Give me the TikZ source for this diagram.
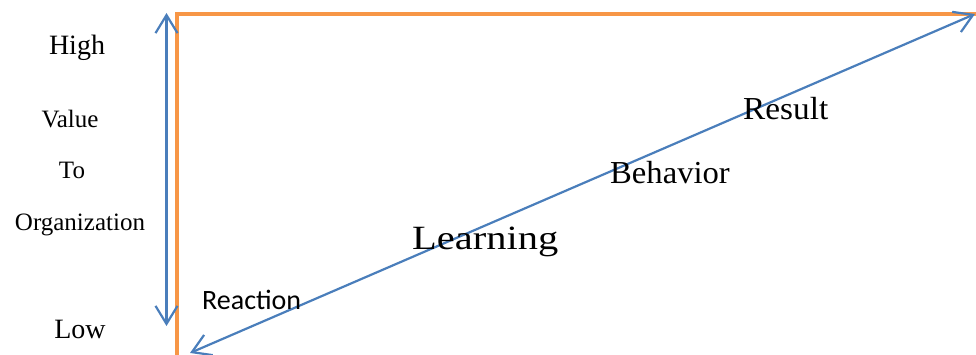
\documentclass[tikz,border=0pt]{standalone}
\usepackage{fontspec}
\usepackage{graphicx}
\setmainfont{Liberation Serif}
\newfontfamily\calibrisub{Carlito}
\usetikzlibrary{arrows.meta}
\definecolor{axisorange}{HTML}{F79646}
\definecolor{arrowblue}{HTML}{4A7EBB}
\begin{document}
\begin{tikzpicture}[x=1pt,y=-1pt,
  axisline/.style={draw=axisorange,line width=4.5pt},
  bluearrow/.style={draw=arrowblue,line width=2.2pt,
    {Straight Barb[length=18pt,width=22pt,line width=2.2pt]}-{Straight Barb[length=18pt,width=22pt,line width=2.2pt]}},
  scalelabel/.style={font=\fontsize{28}{30}\selectfont,anchor=base,inner sep=0pt},
  axislabel/.style={font=\fontsize{25}{27}\selectfont,anchor=base,inner sep=0pt},
  levelsans/.style={font=\calibrisub\fontsize{28}{30}\selectfont,anchor=base west,inner sep=0pt},
  levelserif/.style={font=\fontsize{32}{34}\selectfont,anchor=base west,inner sep=0pt}]
\useasboundingbox (0,0) rectangle (976,355);
% orange axes
\coordinate (origin) at (177,360);
\coordinate (corner) at (177,14);
\coordinate (xend) at (980,14);
\draw[axisline] (origin) -- (corner) -- (xend);
% value scale arrow
\coordinate (scaletop) at (166.5,13);
\coordinate (scalebot) at (166.5,326);
\draw[bluearrow] (scalebot) -- (scaletop);
% diagonal progression arrow
\coordinate (diagstart) at (190,353);
\coordinate (diagend) at (975,14);
\draw[bluearrow] (diagstart) -- (diagend);
% vertical axis labels
\node[scalelabel] (high) at (77,55) {High};
\node[axislabel] (value) at (70,128) {Value};
\node[axislabel] (to) at (72,179) {To};
\node[axislabel] (org) at (80,230) {Organization};
\node[scalelabel] (low) at (80,338) {Low};
% evaluation levels
\node[levelsans] (reaction) at (202,309) {Reaction};
\node[levelserif,font=\fontsize{34}{36}\selectfont] (learning) at (412,249) {\scalebox{1.19}[1]{Learning}};
\node[levelserif] (behavior) at (610,184) {\scalebox{1.02}[1]{Behavior}};
\node[levelserif] (result) at (743,120) {\scalebox{1.04}[1]{Result}};
\end{tikzpicture}
\end{document}
